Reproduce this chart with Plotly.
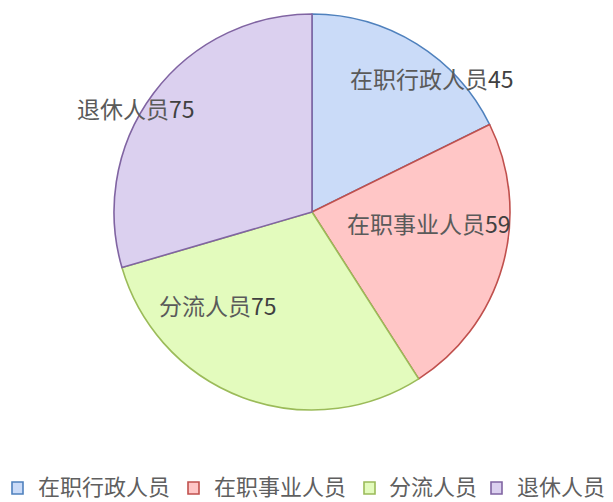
import plotly.graph_objects as go

categories = ["在职行政人员", "在职事业人员", "分流人员", "退休人员"]
values = [45, 59, 75, 75]
fill_colors = ["#cadbf8", "#ffc6c6", "#e3fbbd", "#dbd0ef"]
line_colors = ["#4f81bd", "#c0504d", "#9bbb59", "#8064a2"]

W, H = 613, 502
cx, cy, r = 312, 212, 198

# data-label anchor points (pixels, left edge / vertical middle) as placed in the reference
label_pos = [(348, 78), (345, 223), (157, 305), (75, 108)]
# legend swatch left edges (pixels) and text left edges
legend_swatch_x = [12, 188, 364, 491]
legend_text_x = [37, 213, 388, 516]
legend_y = 485

FONT = "Noto Sans CJK SC, Noto Sans, sans-serif"


def px(x):
    return x / W


def py(y):
    return 1 - y / H


fig = go.Figure(go.Pie(
    labels=categories,
    values=values,
    sort=False,
    direction="clockwise",
    rotation=0,
    marker=dict(colors=fill_colors, line=dict(color=line_colors, width=1.6)),
    textinfo="none",
    domain=dict(x=[px(cx - r), px(cx + r)], y=[py(cy + r), py(cy - r)]),
    hoverinfo="label+value",
    showlegend=False,
))

annotations = []
for (lx, ly), c, v in zip(label_pos, categories, values):
    annotations.append(dict(
        x=px(lx), y=py(ly), xref="paper", yref="paper",
        xanchor="left", yanchor="middle", showarrow=False,
        text=f"{c}<span style='color:#404040'>{v}</span>",
        font=dict(size=23, color="#5a5a5a", family=FONT),
    ))

shapes = []
for sx, tx, c, fc, lc in zip(legend_swatch_x, legend_text_x, categories, fill_colors, line_colors):
    shapes.append(dict(
        type="rect", xref="paper", yref="paper",
        x0=px(sx), x1=px(sx + 11), y0=py(legend_y + 9), y1=py(legend_y - 3),
        fillcolor=fc, line=dict(color=lc, width=1.6),
    ))
    annotations.append(dict(
        x=px(tx), y=py(legend_y), xref="paper", yref="paper",
        xanchor="left", yanchor="middle", showarrow=False, borderpad=0,
        text=c, font=dict(size=22, color="#5f5f5f", family=FONT),
    ))

fig.update_layout(
    width=W, height=H,
    margin=dict(l=0, r=0, t=0, b=0),
    paper_bgcolor="white",
    plot_bgcolor="white",
    font=dict(family=FONT, color="#595959"),
    showlegend=False,
    annotations=annotations,
    shapes=shapes,
)

fig.write_html("out.html", config={"displayModeBar": False},
               post_script="document.body.style.margin='0';")
